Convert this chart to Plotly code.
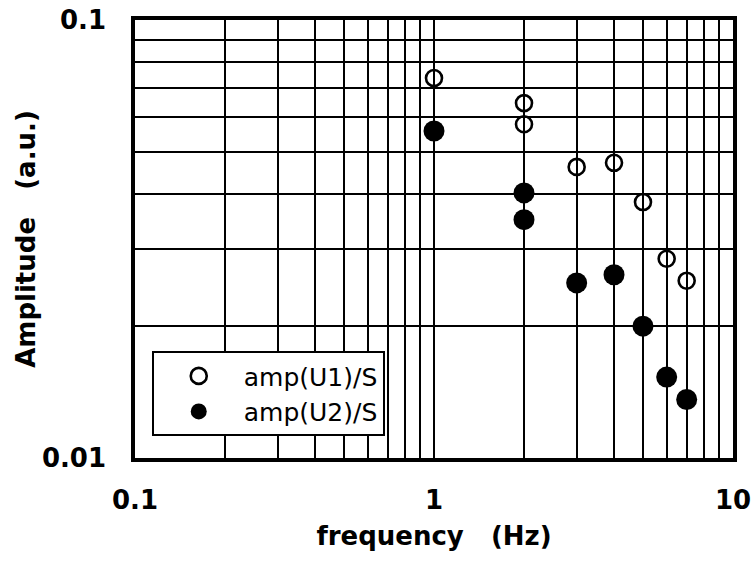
import plotly.graph_objects as go

freq_u1 = [1, 2, 2, 3, 4, 5, 6, 7]
amp_u1 = [0.0737, 0.0646, 0.0578, 0.0462, 0.0472, 0.0384, 0.0285, 0.0254]
freq_u2 = [1, 2, 2, 3, 4, 5, 6, 7]
amp_u2 = [0.0558, 0.0403, 0.0350, 0.0251, 0.0262, 0.0200, 0.0153, 0.0136]

x_ticks = [0.1, 1, 10]
x_ticktext = ["0.1", "1", "10"]
y_ticks = [0.01, 0.1]
y_ticktext = ["0.01", "0.1"]
x_minor = [0.2, 0.3, 0.4, 0.5, 0.6, 0.7, 0.8, 0.9, 2, 3, 4, 5, 6, 7, 8, 9]
y_minor = [0.02, 0.03, 0.04, 0.05, 0.06, 0.07, 0.08, 0.09]

FONT = "DejaVu Sans"

fig = go.Figure()
fig.add_trace(go.Scatter(
    x=freq_u1, y=amp_u1, mode="markers", name="amp(U1)/S",
    marker=dict(symbol="circle-open", size=16, color="black", line=dict(width=2.6, color="black")),
))
fig.add_trace(go.Scatter(
    x=freq_u2, y=amp_u2, mode="markers", name="amp(U2)/S",
    marker=dict(symbol="circle", size=21, color="black"),
))

grid = dict(showgrid=True, gridcolor="black", gridwidth=2.4)

fig.update_layout(
    width=754, height=561,
    margin=dict(l=135, r=21, t=20, b=103),
    paper_bgcolor="white", plot_bgcolor="white",
    font=dict(family=FONT, color="black"),
    showlegend=True,
    legend=dict(
        x=0.028, y=0.244, xanchor="left", yanchor="top",
        bgcolor="white", bordercolor="black", borderwidth=2,
        font=dict(family=FONT, size=25, color="black"),
        itemwidth=80,
    ),
    xaxis=dict(
        type="log", range=[-1, 1], automargin=False,
        tickmode="array", tickvals=x_ticks, ticktext=x_ticktext,
        tickfont=dict(family=FONT, size=26, weight="bold"),
        ticks="", ticklabelstandoff=16,
        showline=True, mirror=True, linecolor="black", linewidth=3.5,
        zeroline=False, **grid,
        minor=dict(tickmode="array", tickvals=x_minor, **grid),
        title=dict(text="frequency   (Hz)", font=dict(family=FONT, size=26, weight="bold"), standoff=14),
    ),
    yaxis=dict(
        type="log", range=[-2, -1], automargin=False,
        tickmode="array", tickvals=y_ticks, ticktext=y_ticktext,
        tickfont=dict(family=FONT, size=26, weight="bold"),
        ticks="", ticklabelstandoff=20,
        showline=True, mirror=True, linecolor="black", linewidth=3.5,
        zeroline=False, **grid,
        minor=dict(tickmode="array", tickvals=y_minor, **grid),
        title=dict(text="Amplitude   (a.u.)", font=dict(family=FONT, size=26, weight="bold"), standoff=0),
    ),
)

fig.write_html("out.html", config={"displayModeBar": False},
               post_script="document.body.style.margin='0';")
